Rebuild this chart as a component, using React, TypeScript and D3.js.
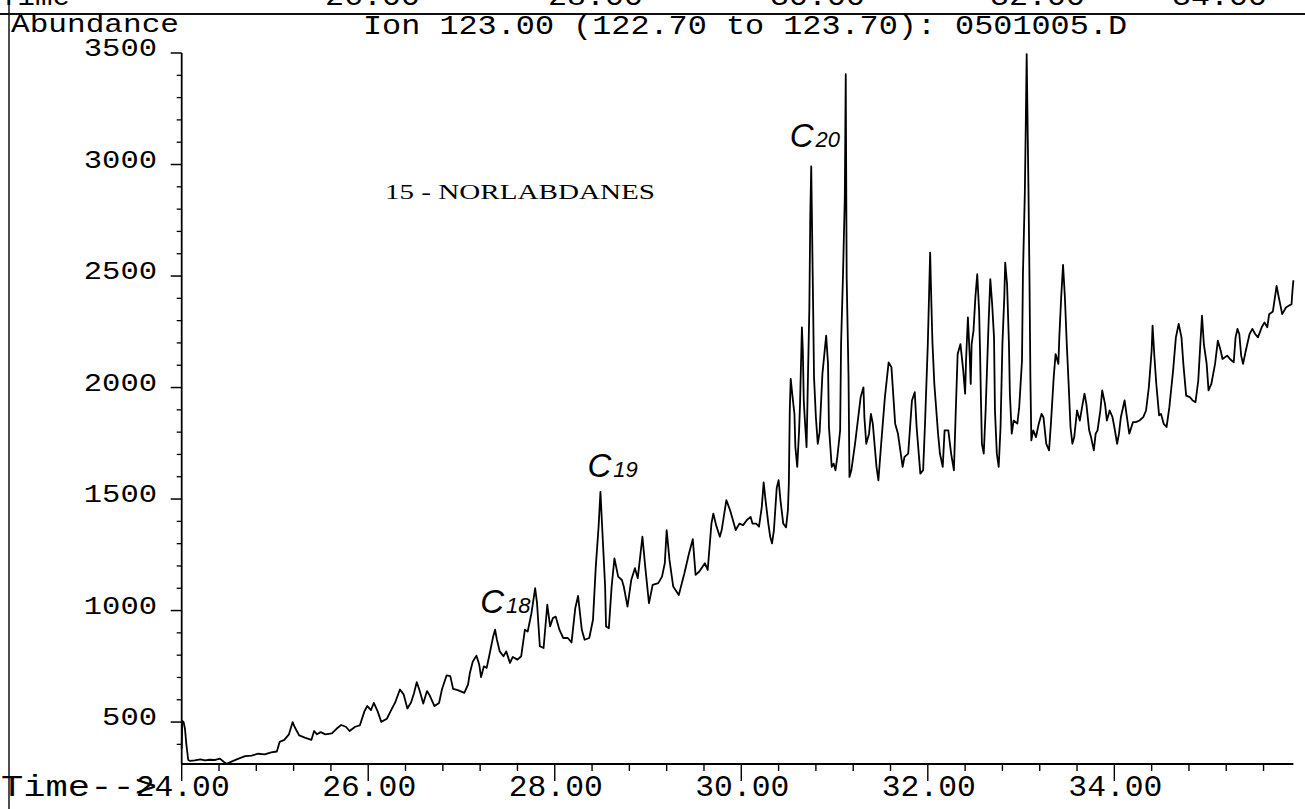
import React from "react";
import * as d3 from "d3";

// ---- tick labels / axis definitions ----
const xMajorTicks = [24, 26, 28, 30, 32, 34];
const yMajorTicks = [500, 1000, 1500, 2000, 2500, 3000, 3500];
const headerText = "Ion 123.00 (122.70 to 123.70): 0501005.D";
const yAxisTitle = "Abundance";
const xAxisTitle = "Time-->";
const topRemnantLabels = ["26.00", "28.00", "30.00", "32.00", "34.00"];
const topRemnantX = [325, 548, 770, 990, 1172];

// ---- trace: [retention time (min), abundance] ----
const traceA: [number, number][] = [
  [24.0, 380], [24.005, 505], [24.02, 500], [24.035, 470], [24.05, 400], [24.07, 330], [24.09, 326],
  [24.14, 328], [24.2, 333], [24.25, 328], [24.3, 331], [24.36, 330], [24.41, 336], [24.45, 322], [24.48, 313],
  [24.54, 324], [24.61, 336], [24.68, 347], [24.75, 350], [24.82, 358], [24.89, 355], [24.96, 364], [25.02, 368],
  [25.05, 411], [25.1, 420], [25.15, 445], [25.19, 500], [25.21, 479], [25.26, 440], [25.32, 430], [25.39, 420],
  [25.42, 460], [25.45, 445], [25.49, 455], [25.54, 445], [25.61, 449], [25.66, 470], [25.71, 487], [25.76, 479],
  [25.8, 460], [25.86, 479], [25.91, 485], [25.96, 549], [25.99, 572], [26.03, 554], [26.06, 586], [26.1, 549],
  [26.14, 501], [26.2, 515], [26.25, 557], [26.29, 589], [26.34, 646], [26.38, 624], [26.42, 561], [26.46, 589],
  [26.49, 628], [26.52, 679], [26.55, 643], [26.59, 583], [26.63, 639], [26.66, 619], [26.71, 572], [26.76, 586],
  [26.79, 646], [26.84, 709], [26.88, 706], [26.91, 649], [26.96, 643], [27.03, 631], [27.07, 668], [27.09, 720],
  [27.12, 770],
];

const traceB: [number, number][] = [
  [27.16, 798], [27.19, 758], [27.21, 702], [27.24, 750], [27.27, 743], [27.3, 802], [27.34, 884], [27.36, 914],
  [27.38, 869], [27.41, 817], [27.45, 795], [27.48, 817], [27.52, 765], [27.55, 792], [27.6, 780], [27.64, 795],
  [27.68, 914], [27.71, 906], [27.75, 988], [27.79, 1100], [27.81, 1033], [27.84, 840], [27.88, 832], [27.92, 1026],
  [27.95, 929], [27.98, 966], [28.01, 973], [28.05, 914], [28.09, 877], [28.14, 877], [28.18, 857], [28.22, 1011],
  [28.25, 1066], [28.29, 914], [28.32, 869], [28.37, 877], [28.41, 959], [28.44, 1197], [28.47, 1376], [28.49, 1532],
  [28.51, 1361], [28.54, 1108], [28.55, 929], [28.58, 921], [28.61, 1108], [28.64, 1234], [28.68, 1152], [28.72, 1137],
  [28.74, 1108], [28.78, 1018], [28.82, 1137], [28.86, 1190], [28.89, 1145], [28.94, 1331], [28.97, 1197], [29.01, 1033],
  [29.05, 1115], [29.11, 1123], [29.15, 1152], [29.18, 1212], [29.2, 1361], [29.23, 1227], [29.27, 1108], [29.33, 1070],
  [29.39, 1167], [29.44, 1257], [29.48, 1320], [29.51, 1160], [29.55, 1175], [29.61, 1212], [29.64, 1182], [29.68, 1390],
  [29.7, 1435], [29.73, 1383], [29.77, 1331], [29.79, 1361], [29.84, 1495], [29.88, 1450], [29.91, 1406], [29.94, 1361],
  [29.98, 1390],
];

const traceC: [number, number][] = [
  [30.02, 1383], [30.06, 1406], [30.1, 1420], [30.12, 1390], [30.16, 1390], [30.19, 1376], [30.22, 1465], [30.24, 1575],
  [30.26, 1495], [30.29, 1390], [30.31, 1331], [30.33, 1301], [30.35, 1361], [30.38, 1550], [30.4, 1585], [30.42, 1495],
  [30.45, 1390], [30.48, 1373], [30.5, 1450], [30.51, 1570], [30.52, 1897], [30.53, 2039], [30.55, 1957], [30.57, 1882],
  [30.58, 1733], [30.6, 1644], [30.62, 1808], [30.63, 1927], [30.65, 2270], [30.66, 2166], [30.67, 1942], [30.68, 1867],
  [30.7, 1733], [30.71, 1942], [30.73, 2359], [30.74, 2776], [30.75, 2992], [30.77, 2374], [30.78, 2046], [30.8, 1867],
  [30.82, 1748], [30.84, 1800], [30.87, 2061], [30.91, 2233], [30.93, 2106], [30.94, 1823], [30.97, 1644], [30.99, 1659],
  [31.01, 1629], [31.03, 1689], [31.06, 1808], [31.07, 2195], [31.09, 2493], [31.11, 2851], [31.12, 3405], [31.13, 2493],
  [31.15, 2046], [31.16, 1599], [31.18, 1629], [31.22, 1748], [31.28, 1957], [31.31, 2001], [31.32, 1867], [31.34, 1748],
  [31.37, 1793], [31.39, 1882], [31.41, 1838], [31.45, 1644], [31.47, 1584], [31.5, 1748], [31.54, 1957], [31.58, 2113],
  [31.61, 2091], [31.65, 1838], [31.68, 1793], [31.73, 1644], [31.75, 1689], [31.79, 1704], [31.83, 1942], [31.86, 1979],
  [31.88, 1823], [31.92, 1614], [31.95, 1629], [31.97, 1838], [32.0, 2195], [32.025, 2605], [32.04, 2350], [32.05, 2200],
  [32.07, 2016], [32.11, 1793], [32.13, 1704],
];

const traceD: [number, number][] = [
  [32.16, 1644], [32.18, 1808], [32.22, 1808], [32.25, 1704], [32.28, 1629], [32.3, 1897], [32.32, 2150], [32.35, 2195],
  [32.38, 2076], [32.4, 1972], [32.41, 2121], [32.43, 2314], [32.45, 2136], [32.46, 2016], [32.47, 2195], [32.49, 2255],
  [32.51, 2404], [32.53, 2508], [32.55, 2344], [32.56, 2166], [32.57, 1942], [32.58, 1748], [32.6, 1704], [32.62, 1897],
  [32.65, 2270], [32.67, 2486], [32.69, 2374], [32.71, 2225], [32.72, 1897], [32.74, 1704], [32.76, 1644], [32.78, 1823],
  [32.8, 2195], [32.82, 2404], [32.83, 2560], [32.85, 2463], [32.87, 2195], [32.88, 1972], [32.9, 1793], [32.92, 1852],
  [32.96, 1838], [32.98, 1912], [33.01, 2121], [33.02, 2508], [33.04, 2866], [33.05, 3164], [33.06, 3495], [33.08, 2866],
  [33.09, 2493], [33.1, 2046], [33.11, 1763], [33.13, 1808], [33.16, 1778], [33.19, 1838], [33.22, 1882], [33.24, 1867],
  [33.27, 1748], [33.3, 1718], [33.32, 1838], [33.35, 2046], [33.37, 2150], [33.4, 2106], [33.41, 2225], [33.43, 2404],
  [33.45, 2550], [33.47, 2404], [33.49, 2195], [33.51, 2016], [33.53, 1823], [33.55, 1748], [33.57, 1778], [33.6, 1897],
  [33.63, 1852], [33.66, 1927], [33.68, 1972], [33.7, 1927], [33.73, 1808], [33.75, 1778], [33.78, 1718], [33.8, 1793],
  [33.82, 1808], [33.85, 1897], [33.87, 1987], [33.9, 1927], [33.92, 1852], [33.95, 1897], [33.98, 1867], [34.0, 1823],
  [34.03, 1748], [34.05, 1793], [34.07, 1867], [34.11, 1942], [34.13, 1882], [34.16, 1793],
];

const traceE: [number, number][] = [
  [34.2, 1845], [34.23, 1845], [34.27, 1852], [34.31, 1867], [34.34, 1897], [34.37, 2002], [34.4, 2166], [34.41, 2278],
  [34.43, 2136], [34.45, 2016], [34.48, 1875], [34.5, 1882], [34.53, 1837], [34.56, 1823], [34.59, 1912], [34.63, 2076],
  [34.66, 2225], [34.69, 2285], [34.72, 2225], [34.74, 2106], [34.77, 1964], [34.81, 1957], [34.84, 1942], [34.87, 1934],
  [34.9, 2031], [34.92, 2180], [34.94, 2322], [34.96, 2195], [34.99, 2106], [35.01, 1987], [35.04, 2016], [35.08, 2106],
  [35.11, 2210], [35.14, 2166], [35.16, 2128], [35.21, 2143], [35.24, 2128], [35.28, 2113], [35.3, 2225], [35.32, 2263],
  [35.34, 2240], [35.36, 2143], [35.38, 2106], [35.41, 2166], [35.45, 2240], [35.48, 2263], [35.51, 2240], [35.54, 2225],
  [35.58, 2270], [35.61, 2292], [35.64, 2270], [35.66, 2329], [35.7, 2341], [35.74, 2456], [35.76, 2411], [35.8, 2329],
  [35.84, 2359], [35.87, 2367], [35.9, 2374], [35.91, 2434], [35.92, 2481],
];

// ---- annotations anchored in data units ----
const peakLabels = [
  { base: "C", sub: "18", t: 27.2, v: 990 },
  { base: "C", sub: "19", t: 28.35, v: 1600 },
  { base: "C", sub: "20", t: 30.52, v: 3078 },
];
const classLabel = { text: "15 - NORLABDANES", t: 26.18, v: 2845 };

const W = 1305;
const H = 809;
const MONO = "'Liberation Mono', 'DejaVu Sans Mono', monospace";

export default function App() {
  const trace = [...traceA, ...traceB, ...traceC, ...traceD, ...traceE];
  const x = d3.scaleLinear().domain([24, 35.92]).range([181.7, 1293.4]);
  const y = d3.scaleLinear().domain([312, 3500]).range([764, 53]);
  const line = d3
    .line<[number, number]>()
    .x((d) => x(d[0]))
    .y((d) => y(d[1]))
    .curve(d3.curveLinear);

  const xMinor = d3
    .range(0, 30)
    .map((i) => ({ i, t: 24 + i * 0.4 }))
    .filter((d) => d.t <= 35.92 && d.i % 5 !== 0)
    .map((d) => d.t);
  const yMinor = d3.range(400, 3500, 100).filter((v) => v % 500 !== 0);

  const x0 = x(24);
  const yBase = y(312);

  return (
    <svg
      width={W}
      height={H}
      viewBox={`0 0 ${W} ${H}`}
      style={{ position: "absolute", left: 0, top: 0, background: "#fff" }}
    >
      <rect x={0} y={0} width={W} height={H} fill="#fff" />
      {/* frame remnants */}
      <line x1={9} x2={9} y1={0} y2={H} stroke="#222" strokeWidth={1.6} />
      <line x1={0} x2={W} y1={14} y2={14} stroke="#111" strokeWidth={1.8} />
      {/* remnants of the previous page's axis labels (cut at top) */}
      <text x={0} y={5} fontFamily={MONO} fontSize={28} textLength={70} lengthAdjust="spacingAndGlyphs">
        Time
      </text>
      {topRemnantLabels.map((s, i) => (
        <text key={s} x={topRemnantX[i]} y={5} fontFamily={MONO} fontSize={28} textLength={95} lengthAdjust="spacingAndGlyphs">
          {s}
        </text>
      ))}

      {/* header */}
      <text x={11} y={32} fontFamily={MONO} fontSize={25} textLength={168} lengthAdjust="spacingAndGlyphs">
        {yAxisTitle}
      </text>
      <text x={363} y={34} fontFamily={MONO} fontSize={27} textLength={764} lengthAdjust="spacingAndGlyphs">
        {headerText}
      </text>

      {/* y axis */}
      <line x1={x0} x2={x0} y1={y(3500)} y2={yBase} stroke="#000" strokeWidth={1.8} />
      {yMajorTicks.map((v) => (
        <g key={v}>
          <line x1={x0 - 11} x2={x0} y1={y(v)} y2={y(v)} stroke="#000" strokeWidth={1.5} />
          <text
            x={157}
            y={y(v) + 3}
            textAnchor="end"
            fontFamily={MONO}
            fontSize={26}
            textLength={String(v).length * 18.3}
            lengthAdjust="spacingAndGlyphs"
          >
            {v}
          </text>
        </g>
      ))}
      {yMinor.map((v) => (
        <line key={v} x1={x0 - 5} x2={x0} y1={y(v)} y2={y(v)} stroke="#000" strokeWidth={1.3} />
      ))}

      {/* x axis */}
      <line x1={x0} x2={x(35.92)} y1={yBase} y2={yBase} stroke="#000" strokeWidth={2} />
      {xMinor.map((t) => (
        <line key={t} x1={x(t)} x2={x(t)} y1={yBase} y2={yBase + 7} stroke="#000" strokeWidth={1.4} />
      ))}
      {xMajorTicks.map((t) => (
        <g key={t}>
          <line x1={x(t)} x2={x(t)} y1={yBase} y2={yBase + 17} stroke="#000" strokeWidth={1.4} />
          <text
            x={x(t) - 46}
            y={796}
            fontFamily={MONO}
            fontSize={29}
            textLength={94}
            lengthAdjust="spacingAndGlyphs"
          >
            {t.toFixed(2)}
          </text>
        </g>
      ))}
      <text x={1} y={796} fontFamily={MONO} fontSize={29} textLength={156} lengthAdjust="spacingAndGlyphs">
        {xAxisTitle}
      </text>

      {/* trace */}
      <path d={line(trace) || ""} fill="none" stroke="#000" strokeWidth={1.8} strokeLinejoin="round" />

      {/* annotations */}
      <text
        x={x(classLabel.t)}
        y={y(classLabel.v)}
        fontFamily="'Liberation Serif', 'Times New Roman', serif"
        fontSize={21}
        textLength={270}
        lengthAdjust="spacingAndGlyphs"
      >
        {classLabel.text}
      </text>
      {peakLabels.map((p) => (
        <text
          key={p.sub}
          x={x(p.t)}
          y={y(p.v)}
          fontFamily="'Liberation Sans', 'DejaVu Sans', sans-serif"
          fontStyle="italic"
          fontWeight={300}
        >
          <tspan fontSize={33}>{p.base}</tspan>
          <tspan fontSize={22} dx={2}>
            {p.sub}
          </tspan>
        </text>
      ))}
    </svg>
  );
}
